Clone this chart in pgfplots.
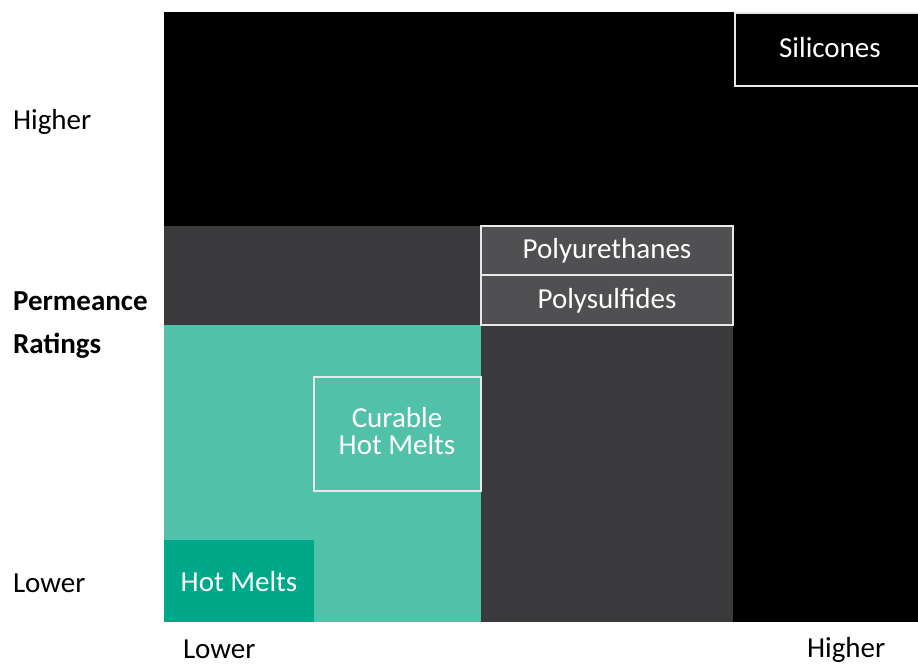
\documentclass[border=0pt]{standalone}
\usepackage{pgfplots}
\pgfplotsset{compat=1.18}
\usepackage{fontspec}
\setmainfont{Carlito}
\definecolor{tealL}{HTML}{52C1AA}
\definecolor{tealD}{HTML}{00A88A}
\definecolor{dgray}{HTML}{3A3A3C}
\definecolor{bgray}{HTML}{505052}
\definecolor{edge}{HTML}{E8E8E8}
\newcommand{\lab}{\fontsize{14.5pt}{17pt}\selectfont}
\begin{document}
\begin{tikzpicture}[font=\lab]
\begin{axis}[
  scale only axis, width=377pt, height=305pt,
  xmin=0, xmax=754, ymin=0, ymax=610,
  axis lines=none, clip=false,
]
% background regions
\addplot[draw=none, fill=black] coordinates {(0,0) (754,0) (754,610) (0,610)} --cycle;
\addplot[draw=none, fill=dgray] coordinates {(0,0) (569,0) (569,396) (0,396)} --cycle;
\addplot[draw=none, fill=tealL] coordinates {(0,0) (317,0) (317,297) (0,297)} --cycle;
\addplot[draw=none, fill=tealD] coordinates {(0,0) (150,0) (150,82) (0,82)} --cycle;
% outlined boxes
\addplot[draw=edge, line width=1pt, fill=black] coordinates {(571,536) (756,536) (756,609) (571,609)} --cycle;
\addplot[draw=edge, line width=1pt, fill=bgray] coordinates {(317,347) (569,347) (569,396) (317,396)} --cycle;
\addplot[draw=edge, line width=1pt, fill=bgray] coordinates {(317,297) (569,297) (569,347) (317,347)} --cycle;
\addplot[draw=edge, line width=1pt, fill=tealL] coordinates {(150,131) (317,131) (317,245) (150,245)} --cycle;
% box labels
\node[text=white, font=\lab] at (axis cs:666,574) {Silicones};
\node[text=white, font=\lab] at (axis cs:443,371) {Polyurethanes};
\node[text=white, font=\lab] at (axis cs:443,321) {Polysulfides};
\node[text=white, align=center, font=\fontsize{14.5pt}{13.5pt}\selectfont] at (axis cs:233,191) {Curable\\Hot Melts};
\node[text=white, font=\lab] at (axis cs:75,40) {Hot Melts};
% axis labels
\node[anchor=west, font=\lab] at (axis cs:-158,500) {Higher};
\node[anchor=west, font=\lab] at (axis cs:-158,39) {Lower};
\node[anchor=west, font=\lab\bfseries] at (axis cs:-158,321) {Permeance};
\node[anchor=west, font=\lab\bfseries] at (axis cs:-158,276) {Ratings};
\node[anchor=west, font=\lab] at (axis cs:12,-27) {Lower};
\node[anchor=west, font=\lab] at (axis cs:636,-28) {Higher};
\end{axis}
\pgfresetboundingbox
\path[use as bounding box] (-82pt,-21pt) rectangle (377pt,311pt);
\end{tikzpicture}
\end{document}
